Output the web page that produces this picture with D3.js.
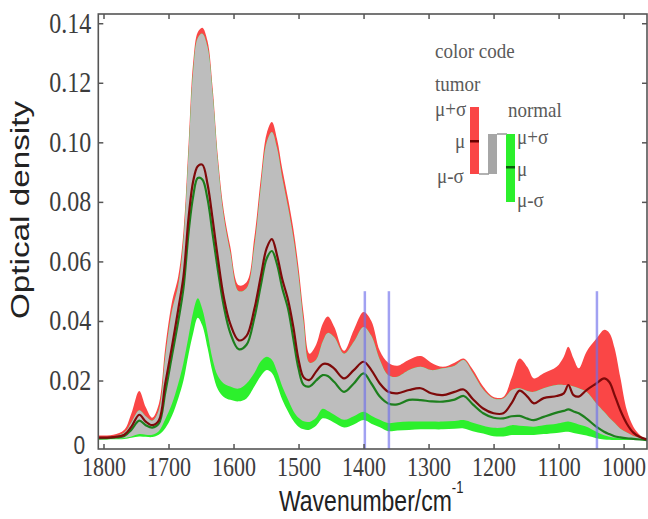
<!DOCTYPE html>
<html><head><meta charset="utf-8">
<script src="https://cdn.jsdelivr.net/npm/d3@7"></script>
<style>html,body{margin:0;padding:0;background:#fff;} svg{display:block;}</style>
</head><body><div id="chart"></div>
<script>
// ---------- data ----------
const wavenumbers = [1808,1785,1768,1757,1745,1735,1725,1715,1705,1695,
 1685,1677,1669,1662,1655,1648,1640,1632,1624,1615,
 1605,1592,1580,1568,1558,1549,1541,1533,1525,1516,
 1508,1500,1492,1483,1473,1463,1455,1445,1430,1415,
 1400,1388,1375,1362,1348,1330,1312,1296,1278,1260,
 1246,1232,1216,1200,1185,1172,1160,1148,1138,1123,
 1103,1092,1085,1077,1069,1057,1042,1030,1022,1014,
 1005,995,985,975,964];

const tumorUpper = [0.0015,0.0018,0.0035,0.009,0.0165,0.011,0.0075,0.012,0.031,0.046,
 0.055,0.070,0.100,0.127,0.137,0.1385,0.134,0.118,0.095,0.077,
 0.065,0.052,0.053,0.068,0.088,0.103,0.1068,0.101,0.091,0.081,
 0.071,0.058,0.042,0.029,0.032,0.039,0.0415,0.038,0.030,0.037,
 0.043,0.040,0.030,0.026,0.025,0.027,0.0282,0.026,0.0246,0.026,
 0.0274,0.0237,0.018,0.0145,0.0145,0.021,0.0274,0.0245,0.0207,0.0224,
 0.0246,0.028,0.0313,0.0274,0.0241,0.0297,0.034,0.037,0.036,0.031,
 0.021,0.010,0.0045,0.0017,0];

const normalUpper = [0.001,0.0012,0.0025,0.006,0.010,0.008,0.0065,0.010,0.028,0.043,
 0.052,0.067,0.097,0.124,0.135,0.1365,0.132,0.116,0.093,0.075,
 0.063,0.050,0.051,0.065,0.085,0.100,0.1035,0.098,0.088,0.078,
 0.068,0.055,0.039,0.026,0.027,0.033,0.036,0.0345,0.029,0.033,
 0.038,0.035,0.027,0.0218,0.0213,0.0235,0.0246,0.0235,0.0241,0.025,
 0.0269,0.0226,0.017,0.014,0.014,0.0168,0.0174,0.0165,0.0162,0.0174,
 0.0185,0.0185,0.0185,0.018,0.0174,0.0162,0.0123,0.0095,0.0075,0.0058,
 0.0038,0.0025,0.0014,0.0008,0];

const tumorMean = [0.0008,0.001,0.0018,0.0045,0.0085,0.0062,0.005,0.0065,0.019,0.031,
 0.044,0.055,0.075,0.087,0.092,0.0925,0.086,0.074,0.061,0.048,
 0.039,0.0335,0.035,0.044,0.055,0.0645,0.0675,0.062,0.054,0.047,
 0.038,0.027,0.021,0.0202,0.023,0.0255,0.0255,0.024,0.0207,0.0235,
 0.0263,0.0235,0.019,0.0162,0.0157,0.0168,0.0174,0.0157,0.0151,0.0162,
 0.017,0.0138,0.0106,0.009,0.009,0.0125,0.0166,0.0146,0.0123,0.0141,
 0.0148,0.0157,0.0185,0.0151,0.0146,0.0168,0.019,0.0207,0.0195,0.0152,
 0.0100,0.0055,0.0025,0.0010,0.0002];

const normalMean = [0.0006,0.0008,0.0014,0.0035,0.0065,0.005,0.0042,0.0055,0.016,0.028,
 0.040,0.051,0.070,0.082,0.088,0.0875,0.081,0.069,0.057,0.045,
 0.036,0.0305,0.032,0.041,0.052,0.061,0.0635,0.059,0.051,0.044,
 0.034,0.024,0.0185,0.018,0.020,0.0218,0.0215,0.0195,0.0162,0.019,
 0.0224,0.019,0.0146,0.0123,0.012,0.0135,0.0134,0.013,0.0129,0.0136,
 0.0148,0.012,0.009,0.0075,0.0073,0.008,0.0081,0.0072,0.0067,0.0078,
 0.0092,0.0098,0.0103,0.0096,0.009,0.0072,0.0045,0.0028,0.002,0.0013,
 0.0009,0.0006,0.0004,0.0002,0];

const tumorLower = [0.0004,0.0005,0.0007,0.0012,0.002,0.0018,0.0018,0.003,0.007,0.012,
 0.019,0.026,0.035,0.043,0.0476,0.044,0.036,0.027,0.0215,0.019,
 0.018,0.0173,0.019,0.0225,0.0265,0.028,0.027,0.023,0.018,0.0135,
 0.0098,0.0075,0.0063,0.0061,0.0075,0.0105,0.0098,0.0085,0.0068,0.008,
 0.0095,0.0082,0.0068,0.0057,0.006,0.0062,0.0062,0.0062,0.0062,0.0064,
 0.0067,0.0058,0.0048,0.0041,0.0042,0.005,0.0048,0.0046,0.0045,0.005,
 0.0055,0.006,0.0062,0.0058,0.0052,0.0045,0.0028,0.0016,0.0011,0.0008,
 0.0006,0.0004,0.0003,0.0002,0];

const normalLower = [0.0002,0.0003,0.0004,0.0008,0.0012,0.0011,0.001,0.0018,0.004,0.008,
 0.014,0.020,0.029,0.036,0.0411,0.0385,0.031,0.0225,0.017,0.0145,
 0.0135,0.013,0.014,0.018,0.0215,0.0235,0.0225,0.0185,0.0135,0.0095,
 0.0065,0.0045,0.0036,0.0035,0.0048,0.0073,0.007,0.0058,0.0042,0.0052,
 0.0067,0.0055,0.0043,0.003,0.0032,0.0034,0.0036,0.0036,0.0036,0.0038,
 0.0039,0.003,0.0022,0.0013,0.0012,0.0017,0.0017,0.0017,0.0017,0.002,
 0.0024,0.0027,0.0028,0.0024,0.002,0.0015,0.0006,0.0002,0.0001,0,
 0,0,0,0,0];

const xTicks = [1800,1700,1600,1500,1400,1300,1200,1100,1000];
const yTicks = [0,0.02,0.04,0.06,0.08,0.10,0.12,0.14];
const yTickLabels = ["0","0.02","0.04","0.06","0.08","0.10","0.12","0.14"];
const markerWavenumbers = [1398,1361,1041];
const markerTop = 0.05;
const xTitle = "Wavenumber/cm";
const xTitleSup = "-1";
const yTitle = "Optical density";
const legendTexts = ["color code","tumor","normal"];
const legendSymbols = ["\u03bc+\u03c3","\u03bc","\u03bc-\u03c3"];

// ---------- layout ----------
const W = 648, H = 519;
const svg = d3.select('#chart').append('svg').attr('width', W).attr('height', H);
const x = d3.scaleLinear().domain([1808, 964]).range([98.3, 647]);
const y = d3.scaleLinear().domain([-0.003, 0.1431]).range([449, 14]);

const data = wavenumbers.map((w, i) => ({
  w, tu: tumorUpper[i], nu: normalUpper[i], tm: tumorMean[i],
  nm: normalMean[i], tl: tumorLower[i], nl: normalLower[i]
}));

svg.append('clipPath').attr('id','clip').append('rect')
  .attr('x', x.range()[0]).attr('y', y.range()[1])
  .attr('width', x.range()[1]-x.range()[0]).attr('height', y.range()[0]-y.range()[1]);
const plot = svg.append('g').attr('clip-path','url(#clip)');
const curve = d3.curveCatmullRom.alpha(0.5);

const area = (lo, hi) => d3.area().x(d => x(d.w)).y0(d => y(lo(d))).y1(d => y(hi(d))).curve(curve);

plot.append('path').datum(data).attr('fill', '#fa4646')
  .attr('d', area(d => d.tl, d => d.tu));
plot.append('path').datum(data).attr('fill', '#2cf02c')
  .attr('d', area(d => d.nl, d => d.nu));
plot.append('path').datum(data).attr('fill', '#bdbdbd')
  .attr('d', area(d => Math.max(d.tl, d.nl), d => Math.max(Math.max(d.tl, d.nl), Math.min(d.tu, d.nu))));

const line = f => d3.line().x(d => x(d.w)).y(d => y(f(d))).curve(curve);
plot.append('path').datum(data).attr('fill','none').attr('stroke','#1d7f1d').attr('stroke-width',2.2)
  .attr('d', line(d => d.nm));
plot.append('path').datum(data).attr('fill','none').attr('stroke','#7e0a0a').attr('stroke-width',2.2)
  .attr('d', line(d => d.tm));

// marker lines
plot.selectAll('line.marker').data(markerWavenumbers).enter().append('line')
  .attr('class','marker')
  .attr('x1', d => x(d)).attr('x2', d => x(d))
  .attr('y1', y(markerTop)).attr('y2', y.range()[0])
  .attr('stroke', 'rgba(110,110,235,0.65)').attr('stroke-width', 2.5);

// ---------- axes ----------
const tickColor = '#555';
const labelColor = '#3c3c3c';
const serif = '"Liberation Serif", "Times New Roman", serif';
const sans = '"Liberation Sans", Arial, sans-serif';

const gx = svg.append('g').attr('transform', `translate(0,${y.range()[0]})`)
  .call(d3.axisBottom(x).tickValues(xTicks).tickSizeInner(-5).tickSizeOuter(0).tickFormat(d3.format('d')));
gx.attr('font-family', serif).attr('font-size', 22);
gx.select('.domain').remove();
gx.selectAll('.tick line').attr('stroke', tickColor).attr('stroke-width', 1.5);
gx.selectAll('.tick text').attr('y', null).attr('dy', null).attr('fill', labelColor)
  .attr('transform', 'translate(0,27) scale(1,1.25)');

const gxt = svg.append('g').attr('transform', `translate(0,${y.range()[1]})`)
  .call(d3.axisTop(x).tickValues(xTicks).tickSizeInner(-5).tickSizeOuter(0).tickFormat(''));
gxt.select('.domain').remove();
gxt.selectAll('.tick line').attr('stroke', tickColor).attr('stroke-width', 1.5);

const gy = svg.append('g').attr('transform', `translate(${x.range()[0]},0)`)
  .call(d3.axisLeft(y).tickValues(yTicks).tickSizeInner(-5).tickSizeOuter(0).tickFormat((d, i) => yTickLabels[i]));
gy.attr('font-family', serif).attr('font-size', 24);
gy.select('.domain').remove();
gy.selectAll('.tick line').attr('stroke', tickColor).attr('stroke-width', 1.5);
gy.selectAll('.tick text').attr('x', null).attr('dy', null).attr('fill', labelColor)
  .attr('transform', 'translate(-7,9) scale(1,1.2)');
gy.selectAll('.tick text').filter(d => d === 0)
  .attr('font-family', sans).attr('font-size', 21).attr('transform', 'translate(-13,13) scale(1,1.2)');
gy.selectAll('.tick').filter(d => d === 0).select('line').remove();

const gyr = svg.append('g').attr('transform', `translate(${x.range()[1]},0)`)
  .call(d3.axisRight(y).tickValues(yTicks.filter(d => d > 0)).tickSizeInner(-5).tickSizeOuter(0).tickFormat(''));
gyr.select('.domain').remove();
gyr.selectAll('.tick line').attr('stroke', tickColor).attr('stroke-width', 1.5);

// frame
svg.append('rect').attr('x', x.range()[0]).attr('y', y.range()[1])
  .attr('width', x.range()[1]-x.range()[0]).attr('height', y.range()[0]-y.range()[1])
  .attr('fill','none').attr('stroke', '#555').attr('stroke-width', 1.6);

// titles
const xt = svg.append('text').attr('transform', 'translate(279,511) scale(1,1.27)')
  .attr('font-family', sans).attr('font-size', 23).attr('fill', '#222');
xt.append('tspan').text(xTitle);
xt.append('tspan').attr('font-size', 13).attr('dy', -14).text(xTitleSup);

svg.append('text').attr('transform', 'translate(29,210) scale(1,1.33) rotate(-90)')
  .attr('font-family', sans).attr('font-size', 25).attr('fill', '#222')
  .attr('text-anchor', 'middle').text(yTitle);

// ---------- legend ----------
const lg = svg.append('g').attr('font-family', serif).attr('font-size', 19).attr('fill', '#5a5a5a');
const ltext = (tx, ty, s) => lg.append('text')
  .attr('transform', `translate(${tx},${ty}) scale(1,1.15)`).text(s);
ltext(435, 58, legendTexts[0]);
ltext(435, 91, legendTexts[1]);
ltext(508, 117, legendTexts[2]);
ltext(435, 116, legendSymbols[0]);
ltext(455, 148, legendSymbols[1]);
ltext(437, 183, legendSymbols[2]);
ltext(517, 144, legendSymbols[0]);
ltext(517, 176, legendSymbols[1]);
ltext(517, 207, legendSymbols[2]);
// bars
lg.append('rect').attr('x', 470).attr('y', 107).attr('width', 9).attr('height', 67).attr('fill', '#fa4646');
lg.append('rect').attr('x', 470).attr('y', 140).attr('width', 9).attr('height', 2.5).attr('fill', '#6a0000');
lg.append('rect').attr('x', 488).attr('y', 134).attr('width', 9).attr('height', 40).attr('fill', '#a6a6a6');
lg.append('rect').attr('x', 506).attr('y', 134).attr('width', 9).attr('height', 68).attr('fill', '#2cf02c');
lg.append('rect').attr('x', 506).attr('y', 166).attr('width', 9).attr('height', 2.5).attr('fill', '#0c5a0c');
lg.append('path').attr('d', 'M479,174H489 M497,134H507').attr('stroke', '#999').attr('stroke-width', 1.5).attr('fill','none');
</script></body></html>
